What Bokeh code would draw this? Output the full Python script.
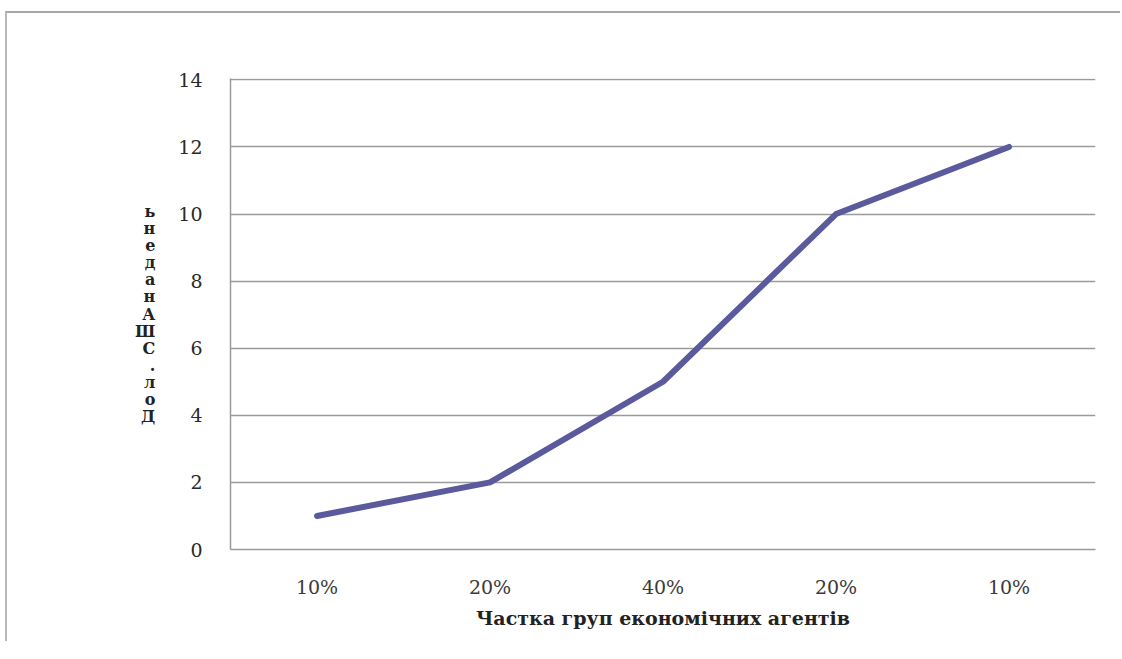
from bokeh.plotting import figure
from bokeh.embed import file_html
from bokeh.resources import INLINE
from bokeh.models import FixedTicker, Range1d

categories = ["10%", "20%", "40%", "20%", "10%"]
values = [1, 2, 5, 10, 12]
y_ticks = [0, 2, 4, 6, 8, 10, 12, 14]
x_title = "Частка груп економічних агентів"
y_title = "ь\nн\nе\nд\nа\nн\nА\nШ\nС\n.\nл\nо\nД"

xs = list(range(len(categories)))

p = figure(width=1115, height=630, output_backend="svg", toolbar_location=None,
           x_range=Range1d(-0.5, len(categories) - 0.5), y_range=Range1d(0, 14.04),
           min_border_left=223, min_border_right=27, min_border_top=65, min_border_bottom=94)
p.styles = {"border-top": "2px solid #a8a8a8", "border-left": "2px solid #b8b8b8",
            "margin-left": "5px", "margin-top": "11px"}
p.outline_line_color = None
p.xgrid.grid_line_color = None
p.ygrid.grid_line_color = "#9a9a9a"
p.ygrid.grid_line_width = 1.5

p.line(xs, values, line_color="#5A5A9C", line_width=6, line_cap="round", line_join="round")

p.xaxis.ticker = FixedTicker(ticks=xs)
p.xaxis.major_label_overrides = {i: c for i, c in enumerate(categories)}
p.yaxis.ticker = FixedTicker(ticks=y_ticks)
for ax in (p.xaxis[0], p.yaxis[0]):
    ax.axis_line_color = "#9a9a9a"
    ax.axis_line_width = 1.5
    ax.major_tick_line_color = None
    ax.minor_tick_line_color = None
    ax.major_label_text_font = "DejaVu Serif"
    ax.major_label_text_font_size = "19px"
    ax.major_label_text_color = "#3a3a3a"
    ax.axis_label_text_font = "DejaVu Serif"
    ax.axis_label_text_font_style = "bold"
    ax.axis_label_text_color = "#222222"

p.yaxis.major_label_text_color = "#2a2a2a"

p.xaxis.axis_label = x_title
p.xaxis.axis_label_text_font_size = "19px"
p.xaxis.axis_label_standoff = 6
p.xaxis.major_label_standoff = 20

p.yaxis.axis_label = y_title
p.yaxis.axis_label_orientation = "horizontal"
p.yaxis.axis_label_text_font_size = "16px"
p.yaxis.axis_label_text_line_height = 0.9
p.yaxis.axis_label_standoff = 20
p.yaxis.major_label_standoff = 22

open("out.html", "w").write(file_html(p, INLINE))
